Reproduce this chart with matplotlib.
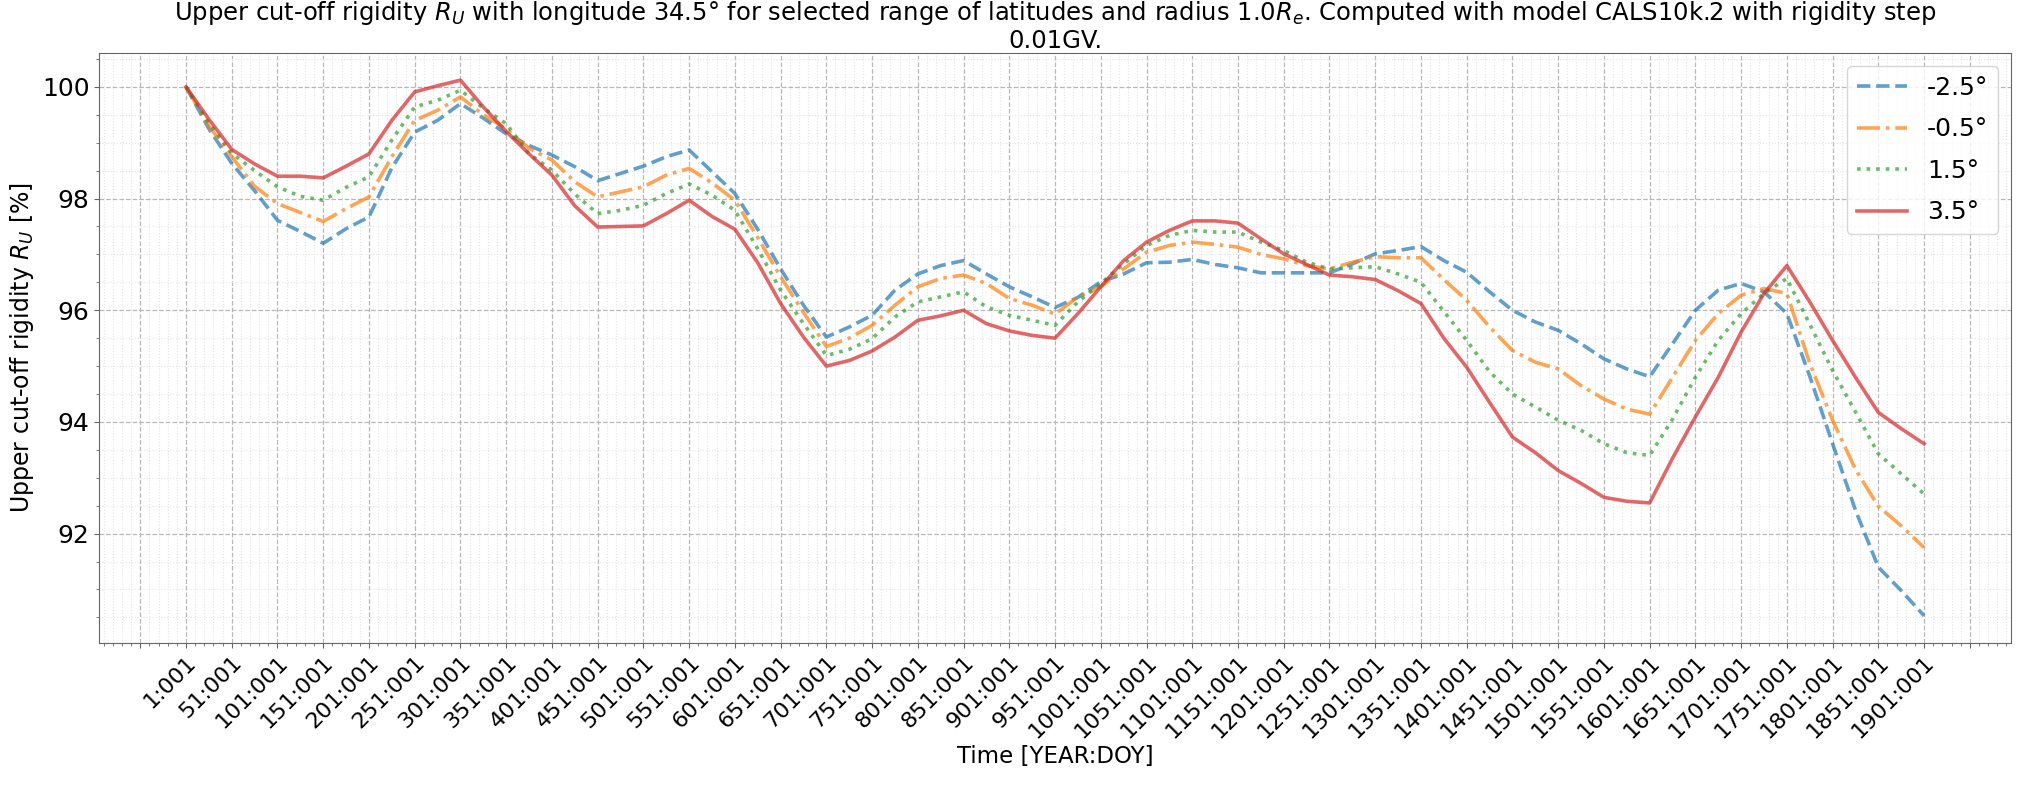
import matplotlib

matplotlib.use("Agg")
import matplotlib.pyplot as plt
from matplotlib.ticker import AutoMinorLocator

# sample years (YEAR, day 001), every 25 years
years = list(range(1, 1902, 25))

lat_m25 = [100.0, 99.25, 98.63, 98.14, 97.61, 97.41, 97.20, 97.46, 97.67, 98.55,
           99.19, 99.40, 99.70, 99.44, 99.16, 98.95, 98.78, 98.57, 98.32, 98.45,
           98.58, 98.75, 98.87, 98.48, 98.09, 97.45, 96.74, 96.09, 95.52, 95.70,
           95.91, 96.36, 96.65, 96.80, 96.89, 96.65, 96.42, 96.24, 96.05, 96.23,
           96.51, 96.65, 96.85, 96.86, 96.91, 96.82, 96.76, 96.67, 96.67, 96.67,
           96.67, 96.83, 97.01, 97.07, 97.14, 96.89, 96.68, 96.33, 96.00, 95.79,
           95.64, 95.40, 95.13, 94.95, 94.81, 95.40, 96.00, 96.36, 96.48, 96.33,
           95.94, 94.82, 93.61, 92.42, 91.40, 90.98, 90.53]
lat_m05 = [100.0, 99.30, 98.75, 98.22, 97.91, 97.75, 97.59, 97.82, 98.03, 98.75,
           99.40, 99.58, 99.82, 99.50, 99.25, 98.90, 98.69, 98.30, 98.03, 98.12,
           98.21, 98.42, 98.54, 98.28, 97.97, 97.30, 96.60, 95.96, 95.35, 95.50,
           95.73, 96.09, 96.42, 96.57, 96.63, 96.48, 96.21, 96.09, 95.93, 96.24,
           96.42, 96.74, 97.04, 97.16, 97.22, 97.18, 97.13, 97.00, 96.92, 96.80,
           96.74, 96.86, 96.96, 96.94, 96.94, 96.55, 96.18, 95.70, 95.28, 95.07,
           94.95, 94.65, 94.41, 94.23, 94.14, 94.80, 95.46, 95.94, 96.27, 96.39,
           96.30, 95.05, 94.03, 93.15, 92.49, 92.14, 91.75]
lat_p15 = [100.0, 99.35, 98.81, 98.50, 98.21, 98.04, 97.97, 98.20, 98.39, 99.05,
           99.64, 99.76, 99.94, 99.62, 99.34, 98.80, 98.51, 98.08, 97.73, 97.79,
           97.88, 98.09, 98.26, 98.06, 97.79, 97.10, 96.36, 95.76, 95.19, 95.30,
           95.49, 95.88, 96.15, 96.24, 96.33, 96.06, 95.91, 95.82, 95.73, 96.15,
           96.48, 96.83, 97.16, 97.34, 97.43, 97.40, 97.40, 97.22, 97.07, 96.86,
           96.74, 96.76, 96.78, 96.65, 96.50, 95.98, 95.46, 94.90, 94.50, 94.27,
           94.03, 93.85, 93.61, 93.45, 93.40, 94.05, 94.80, 95.46, 95.94, 96.30,
           96.57, 95.75, 94.92, 94.18, 93.43, 93.07, 92.71]
lat_p35 = [100.0, 99.42, 98.88, 98.62, 98.40, 98.40, 98.37, 98.58, 98.80, 99.40,
           99.91, 100.02, 100.12, 99.64, 99.20, 98.80, 98.42, 97.87, 97.49, 97.50,
           97.51, 97.73, 97.97, 97.68, 97.45, 96.85, 96.12, 95.52, 95.00, 95.10,
           95.27, 95.52, 95.82, 95.90, 96.00, 95.76, 95.63, 95.55, 95.50, 95.94,
           96.42, 96.89, 97.22, 97.43, 97.60, 97.60, 97.56, 97.28, 97.01, 96.82,
           96.63, 96.60, 96.55, 96.35, 96.12, 95.50, 94.98, 94.35, 93.73, 93.45,
           93.13, 92.90, 92.65, 92.58, 92.55, 93.35, 94.09, 94.80, 95.61, 96.30,
           96.80, 96.15, 95.46, 94.80, 94.17, 93.88, 93.61]

labels = ["-2.5°", "-0.5°", "1.5°", "3.5°"]
series = [lat_m25, lat_m05, lat_p15, lat_p35]
styles = ["--", "-.", ":", "-"]
colors = ["tab:blue", "tab:orange", "tab:green", "tab:red"]

tick_years = list(range(-49, 1952, 50))
tick_labels = [f"{y}:001" if 1 <= y <= 1901 else "" for y in tick_years]

fig = plt.figure(figsize=(20.35, 7.85), dpi=100)
ax = fig.add_axes([0.0487, 0.1815, 0.9395, 0.7505])

for vals, lab, ls, c in zip(series, labels, styles, colors):
    ax.plot(years, vals, ls, color=c, alpha=0.7, lw=2.6, label=lab)

ax.set_xticks(tick_years)
ax.set_xticklabels(tick_labels, rotation=45, ha="right", rotation_mode="anchor",
                   fontsize=16)
ax.tick_params(axis="y", labelsize=18)
ax.set_yticks([92, 94, 96, 98, 100])
ax.xaxis.set_minor_locator(AutoMinorLocator(5))
ax.yaxis.set_minor_locator(AutoMinorLocator(4))
ax.grid(which="major", ls="--", color="#b8b8b8", lw=0.9)
ax.grid(which="minor", ls=":", color="#e4e4e4", lw=0.8)
ax.tick_params(which="both", color="0.4")
for sp in ax.spines.values():
    sp.set_color("0.4")

ax.set_xlabel("Time [YEAR:DOY]", fontsize=16.5, labelpad=2)
ax.set_ylabel("Upper cut-off rigidity $R_U$ [%]", fontsize=17)
ax.set_title("Upper cut-off rigidity $R_U$ with longitude 34.5° for selected range of "
             "latitudes and radius 1.0$R_e$. Computed with model CALS10k.2 with rigidity step\n"
             "0.01GV.", fontsize=17.5, linespacing=1.15, pad=3)
ax.legend(loc="upper right", fontsize=18, handlelength=2.0, labelspacing=0.7)

fig.savefig("out.png", dpi=100)
